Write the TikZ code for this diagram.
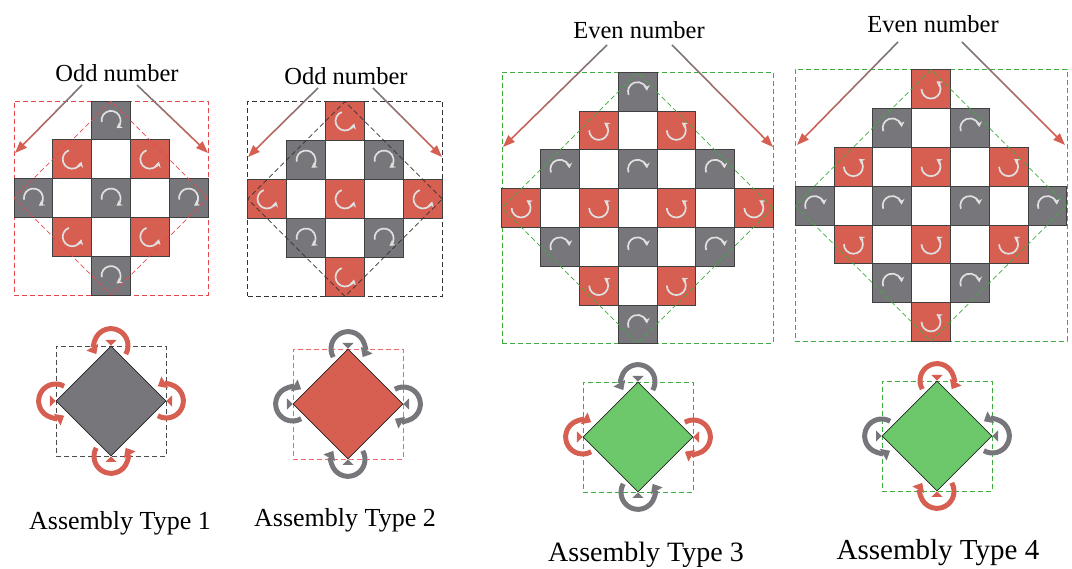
\documentclass[tikz,border=0pt]{standalone}
\usepackage{fontspec}
\setmainfont{Liberation Serif}
\usetikzlibrary{positioning,calc,arrows.meta,shapes.geometric}

\definecolor{tred}{HTML}{D65F52}
\definecolor{tgray}{HTML}{77767B}
\definecolor{tgreen}{HTML}{6CC86A}
\definecolor{dgreen}{HTML}{3DAE3D}
\definecolor{dred}{HTML}{E8484C}
\definecolor{lred}{HTML}{F06A6A}

% small arrow inside a tile
\newcommand{\tarr}[3]{\draw[tarrow] ([shift={(#2:9.5)}]#1.center) arc[start angle=#2,end angle=#3,radius=9.5];}
% rotation arrow round a corner of the diamond
\newcommand{\rarr}[4]{%
  \pgfmathsetmacro{\rsa}{#2-120*#3}%
  \pgfmathsetmacro{\rea}{#2+120*#3}%
  \fill[#4] (#1) -- ([shift={(#2+45:8)}]#1) -- ([shift={(#2-45:8)}]#1) -- cycle;
  \draw[rarrow, draw=#4] ([shift={(\rsa:17)}]#1) arc[start angle=\rsa,end angle=\rea,radius=17];}
% label arrow, grey to red
\newcommand{\grarr}[2]{%
  \foreach \k [evaluate=\k as \pc using int(\k*11)] in {0,...,8}
    \draw[garrow, draw=tred!\pc!tgray] ($(#1)!{\k/10}!(#2)$) -- ($(#1)!{(\k+1)/10}!(#2)$);
  \draw[garrow, draw=tred, -{Triangle[length=12pt,width=9pt]}] ($(#1)!0.9!(#2)$) -- (#2);}

\begin{document}
\begin{tikzpicture}[x=1pt, y=1pt,
    rtile/.style={draw=black!75, line width=0.7pt, fill=tred, minimum size=38.8pt, inner sep=0pt},
    gtile/.style={rtile, fill=tgray},
    tarrow/.style={draw=white!88!black, line width=1.7pt, -{Stealth[length=5.5pt,width=6.5pt]}},
    rarrow/.style={line width=5pt, -{Triangle[length=8pt,width=13pt]}},
    garrow/.style={line width=1.6pt},
    dsq/.style={draw, dash pattern=on 5pt off 3pt, line width=0.8pt, minimum size=#1, inner sep=0pt},
    ddia/.style={dsq=#1, diamond},
    sdia/.style={diamond, draw=black!85, line width=0.7pt, minimum size=110pt, inner sep=0pt},
    lbl/.style={font=\fontsize{24.5}{28}\selectfont},
    tlbl/.style={font=\fontsize{26}{30}\selectfont}]
\useasboundingbox (0,0) rectangle (1072,569);

% ---------- panel 1
\node[dsq=194pt, draw=dred] (sq1) at (111,371) {};
\begin{scope}[shift={(111,371)}]
  \foreach \i/\j in {0/2,-2/0,0/0,2/0,0/-2}
    {\node[gtile] (p1g\i\j) at (\i*38.8,\j*38.8) {}; \tarr{p1g\i\j}{190}{-55}}
  \foreach \i/\j in {-1/1,1/1,-1/-1,1/-1}
    {\node[rtile] (p1r\i\j) at (\i*38.8,\j*38.8) {}; \tarr{p1r\i\j}{110}{345}}
\end{scope}
\node[ddia=194pt, draw=dred] (dm1) at (111,371) {};

% ---------- panel 2
\node[dsq=195pt, draw=black!80] (sq2) at (345,370) {};
\begin{scope}[shift={(345,370)}]
  \foreach \i/\j in {0/2,-2/0,0/0,2/0,0/-2}
    {\node[rtile] (p2r\i\j) at (\i*39,\j*39) {}; \tarr{p2r\i\j}{110}{345}}
  \foreach \i/\j in {-1/1,1/1,-1/-1,1/-1}
    {\node[gtile] (p2g\i\j) at (\i*39,\j*39) {}; \tarr{p2g\i\j}{190}{-55}}
\end{scope}
\node[ddia=195pt, draw=black!80] (dm2) at (345,370) {};

% ---------- panel 3
\node[dsq=271pt, draw=dgreen] (sq3) at (637.5,361) {};
\begin{scope}[shift={(637.5,361)}]
  \foreach \i/\j in {-1/2,1/2,-3/0,-1/0,1/0,3/0,-1/-2,1/-2}
    {\node[rtile] (p3r\i\j) at (\i*38.8,\j*38.8) {}; \tarr{p3r\i\j}{180}{415}}
  \foreach \i/\j in {0/3,-2/1,0/1,2/1,-2/-1,0/-1,2/-1,0/-3}
    {\node[gtile] (p3g\i\j) at (\i*38.8,\j*38.8) {}; \tarr{p3g\i\j}{200}{5}}
\end{scope}
\node[ddia=271pt, draw=dgreen] (dm3) at (637.5,361) {};

% ---------- panel 4
\node[dsq=272pt, draw=dgreen] (sq4) at (931,363.5) {};
\begin{scope}[shift={(931,363.5)}]
  \foreach \i/\j in {0/3,-2/1,0/1,2/1,-2/-1,0/-1,2/-1,0/-3}
    {\node[rtile] (p4r\i\j) at (\i*38.8,\j*38.8) {}; \tarr{p4r\i\j}{180}{415}}
  \foreach \i/\j in {-1/2,1/2,-3/0,-1/0,1/0,3/0,-1/-2,1/-2}
    {\node[gtile] (p4g\i\j) at (\i*38.8,\j*38.8) {}; \tarr{p4g\i\j}{200}{5}}
\end{scope}
\node[ddia=272pt, draw=dgreen] (dm4) at (931,363.5) {};

% ---------- labels and arrows
\node[lbl] (odd1) at (117,496) {Odd number};
\node[lbl] (odd2) at (346,493) {Odd number};
\node[lbl] (even3) at (639,539) {Even number};
\node[lbl] (even4) at (933,545) {Even number};
\coordinate (a1l) at (82,484);  \coordinate (b1l) at (15,416);
\coordinate (a1r) at (137,484); \coordinate (b1r) at (208,416);
\coordinate (a2l) at (318,481); \coordinate (b2l) at (248,412);
\coordinate (a2r) at (373,481); \coordinate (b2r) at (442,412);
\coordinate (a3l) at (607,524); \coordinate (b3l) at (503,422);
\coordinate (a3r) at (672,524); \coordinate (b3r) at (773,422);
\coordinate (a4l) at (898,527); \coordinate (b4l) at (797,424);
\coordinate (a4r) at (962,527); \coordinate (b4r) at (1065,424);
\grarr{a1l}{b1l} \grarr{a1r}{b1r}
\grarr{a2l}{b2l} \grarr{a2r}{b2r}
\grarr{a3l}{b3l} \grarr{a3r}{b3r}
\grarr{a4l}{b4l} \grarr{a4r}{b4r}

% ---------- assembly types
\node[dsq=110pt, draw=black!70] (bq1) at (111,168) {};
\node[sdia, fill=tgray] (bd1) at (111,168) {};
\rarr{bd1.north}{90}{1}{tred} \rarr{bd1.east}{0}{1}{tred}
\rarr{bd1.south}{270}{1}{tred} \rarr{bd1.west}{180}{1}{tred}

\node[dsq=110pt, draw=lred] (bq2) at (348,165) {};
\node[sdia, fill=tred] (bd2) at (348,165) {};
\rarr{bd2.north}{90}{-1}{tgray} \rarr{bd2.east}{0}{-1}{tgray}
\rarr{bd2.south}{270}{-1}{tgray} \rarr{bd2.west}{180}{-1}{tgray}

\node[dsq=110pt, draw=dgreen] (bq3) at (638,132) {};
\node[sdia, fill=tgreen] (bd3) at (638,132) {};
\rarr{bd3.north}{90}{1}{tgray} \rarr{bd3.east}{0}{-1}{tred}
\rarr{bd3.south}{270}{1}{tgray} \rarr{bd3.west}{180}{-1}{tred}

\node[dsq=110pt, draw=dgreen] (bq4) at (937,133) {};
\node[sdia, fill=tgreen] (bd4) at (937,133) {};
\rarr{bd4.north}{90}{-1}{tred} \rarr{bd4.east}{0}{1}{tgray}
\rarr{bd4.south}{270}{-1}{tred} \rarr{bd4.west}{180}{1}{tgray}

\node[tlbl] (type1) at (120,46) {Assembly Type 1};
\node[tlbl] (type2) at (345,49) {Assembly Type 2};
\node[tlbl, font=\fontsize{28}{32}\selectfont] (type3) at (646,14) {Assembly Type 3};
\node[tlbl, font=\fontsize{29}{33}\selectfont] (type4) at (938,16) {Assembly Type 4};
\end{tikzpicture}
\end{document}
